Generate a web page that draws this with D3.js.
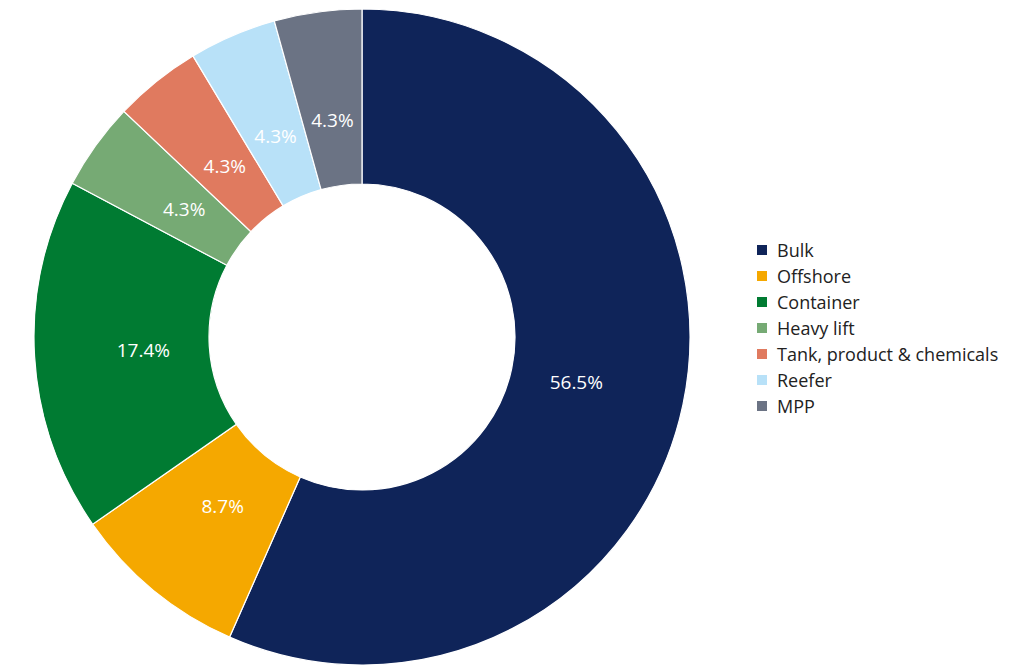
<!DOCTYPE html>
<html>
<head>
<meta charset="utf-8">
<script src="https://cdn.jsdelivr.net/npm/d3@7"></script>
<style>
  html, body { margin: 0; padding: 0; background: #fff; }
  svg { display: block; }
</style>
</head>
<body>
<svg id="chart" width="1012" height="665"></svg>
<script>
// Fleet mix by segment (share of vessels, %)
const categories = ["Bulk", "Offshore", "Container", "Heavy lift", "Tank, product & chemicals", "Reefer", "MPP"];
const shares = [56.5, 8.7, 17.4, 4.3, 4.3, 4.3, 4.3];
const colors = ["#0f2459", "#f5a800", "#007b32", "#76aa74", "#e07a5f", "#b8e1f8", "#6b7384"];

const svg = d3.select("#chart");
const cx = 362, cy = 337;
const outerR = 328, innerR = 153, labelR = 219;

const data = categories.map((c, i) => ({ name: c, value: shares[i], color: colors[i] }));

const pie = d3.pie().value(d => d.value).sort(null);
const arc = d3.arc().innerRadius(innerR).outerRadius(outerR);
const labelArc = d3.arc().innerRadius(labelR).outerRadius(labelR);

const g = svg.append("g").attr("transform", `translate(${cx},${cy})`);
const arcs = pie(data);

g.selectAll("path.slice")
  .data(arcs)
  .enter().append("path")
  .attr("class", "slice")
  .attr("d", arc)
  .attr("fill", d => d.data.color)
  .attr("stroke", "#ffffff")
  .attr("stroke-width", 1.2);

g.selectAll("text.val")
  .data(arcs)
  .enter().append("text")
  .attr("class", "val")
  .attr("transform", d => `translate(${labelArc.centroid(d)})`)
  .attr("text-anchor", "middle")
  .attr("dominant-baseline", "central")
  .attr("font-family", "'Open Sans', 'Noto Sans', sans-serif")
  .attr("font-size", 19)
  .attr("fill", "#ffffff")
  .text(d => d3.format(".1f")(d.data.value) + "%");

// Legend
const legend = svg.append("g").attr("transform", "translate(757,250)");
const item = legend.selectAll("g.item")
  .data(data)
  .enter().append("g")
  .attr("class", "item")
  .attr("transform", (d, i) => `translate(0,${i * 26})`);

item.append("rect")
  .attr("x", 0).attr("y", -5)
  .attr("width", 10).attr("height", 10)
  .attr("fill", d => d.color);

item.append("text")
  .attr("x", 20).attr("y", 0)
  .attr("dominant-baseline", "central")
  .attr("font-family", "'Open Sans', 'Noto Sans', sans-serif")
  .attr("font-size", 18)
  .attr("fill", "#222222")
  .text(d => d.name);
</script>
</body>
</html>
